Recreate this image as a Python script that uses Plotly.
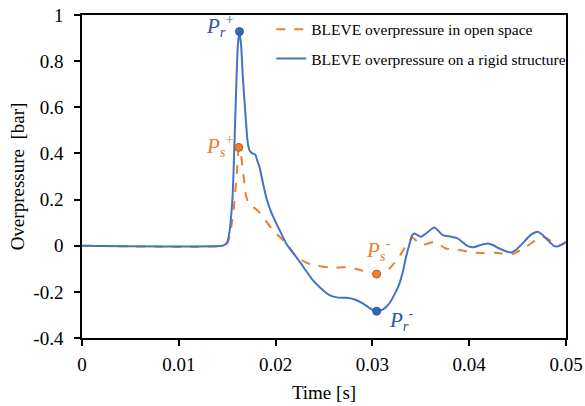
import plotly.graph_objects as go

# Time [s] and overpressure [bar]
t_open = [0, 0.0145, 0.0150, 0.0153, 0.0157, 0.0160, 0.0162, 0.0164, 0.01662, 0.01697, 0.0173,
          0.01765, 0.0182, 0.01868, 0.01971, 0.0211, 0.0221, 0.0230, 0.02384, 0.02556, 0.02729,
          0.0282, 0.029, 0.0297, 0.03044, 0.0311, 0.03175, 0.03279, 0.03364, 0.03416, 0.0346,
          0.03519, 0.0364, 0.0376, 0.03898, 0.0407, 0.04277, 0.04448, 0.04586, 0.04757, 0.04861,
          0.0495, 0.05]
p_open = [0, 0, 0.01, 0.05, 0.17, 0.32, 0.426, 0.40, 0.328, 0.212, 0.18,
          0.169, 0.15, 0.125, 0.068, 0.01, -0.045, -0.07, -0.084, -0.094, -0.094,
          -0.1, -0.109, -0.118, -0.123, -0.115, -0.1, -0.045, 0.01, 0.035, 0.02,
          0.003, 0.017, -0.012, -0.019, -0.031, -0.031, -0.036, -0.005, 0.039, 0.017,
          0.003, 0.015]

t_rigid = [0, 0.0145, 0.0148, 0.0150, 0.0152, 0.01555, 0.01586, 0.0161, 0.01627, 0.01645, 0.01662,
           0.0169, 0.01713, 0.01735, 0.0176, 0.0179, 0.0181, 0.01834, 0.0187, 0.01903, 0.0195,
           0.02006, 0.0205, 0.02109, 0.0225, 0.02384, 0.0247, 0.02556, 0.0265, 0.02729, 0.0281,
           0.029, 0.0297, 0.03044, 0.0311, 0.03175, 0.0323, 0.03279, 0.0331, 0.03348, 0.03382,
           0.0341, 0.03433, 0.0347, 0.03503, 0.0356, 0.0364, 0.03726, 0.03812, 0.0388, 0.03967,
           0.04035, 0.0411, 0.0419, 0.0425, 0.0431, 0.04431, 0.0449, 0.04551, 0.0463, 0.04706,
           0.0475, 0.04793, 0.04878, 0.0492, 0.04947, 0.05]
p_rigid = [0, 0, 0.005, 0.015, 0.05, 0.21, 0.59, 0.87, 0.928, 0.86, 0.73,
           0.56, 0.445, 0.41, 0.40, 0.395, 0.37, 0.34, 0.27, 0.21, 0.15,
           0.098, 0.06, 0.01, -0.07, -0.149, -0.185, -0.214, -0.225, -0.226, -0.232,
           -0.25, -0.27, -0.284, -0.276, -0.25, -0.21, -0.164, -0.12, -0.048, 0.005,
           0.045, 0.053, 0.045, 0.039, 0.055, 0.079, 0.046, 0.039, 0.032, 0.003,
           -0.007, 0.002, 0.01, 0.002, -0.012, -0.029, -0.015, 0.01, 0.045, 0.06,
           0.05, 0.032, -0.002, -0.002, 0.003, 0.017]

# Marked peaks
open_peaks_t = [0.0162, 0.03044]
open_peaks_p = [0.426, -0.123]
rigid_peaks_t = [0.01627, 0.03044]
rigid_peaks_p = [0.928, -0.284]

x_tickvals = [0, 0.01, 0.02, 0.03, 0.04, 0.05]
x_ticktext = ["0", "0.01", "0.02", "0.03", "0.04", "0.05"]
y_tickvals = [-0.4, -0.2, 0, 0.2, 0.4, 0.6, 0.8, 1]
y_ticktext = ["-0.4", "-0.2", "0", "0.2", "0.4", "0.6", "0.8", "1"]

ORANGE = "#ED7D31"
BLUE = "#4472C4"
DARKBLUE = "#2A5A9E"
FONT = "Liberation Serif"

fig = go.Figure()
fig.add_trace(go.Scatter(x=t_open, y=p_open, mode="lines", name="BLEVE overpressure in open space",
                         line=dict(color=ORANGE, width=2, dash="dash", shape="spline", smoothing=0.6),
                         legendgroup="a"))
fig.add_trace(go.Scatter(x=t_rigid, y=p_rigid, mode="lines", name="BLEVE overpressure on a rigid structure",
                         line=dict(color=BLUE, width=2, shape="spline", smoothing=0.6),
                         legendgroup="b"))
fig.add_trace(go.Scatter(x=open_peaks_t, y=open_peaks_p, mode="markers", showlegend=False,
                         marker=dict(color=ORANGE, size=8, line=dict(color="#C0601E", width=1))))
fig.add_trace(go.Scatter(x=rigid_peaks_t, y=rigid_peaks_p, mode="markers", showlegend=False,
                         marker=dict(color="#3366B8", size=8, line=dict(color="#2A5A9E", width=1))))

fig.add_annotation(x=rigid_peaks_t[0], y=rigid_peaks_p[0], text="<i>P</i><sub><i>r</i></sub><sup>+</sup>",
                   xanchor="right", yanchor="middle", xshift=-3, yshift=6,
                   font=dict(family=FONT, size=21, color=DARKBLUE), showarrow=False)
fig.add_annotation(x=open_peaks_t[0], y=open_peaks_p[0], text="<i>P</i><sub><i>s</i></sub><sup>+</sup>",
                   xanchor="right", yanchor="middle", xshift=-3, yshift=2,
                   font=dict(family=FONT, size=21, color=ORANGE), showarrow=False)
fig.add_annotation(x=open_peaks_t[1], y=open_peaks_p[1], text="<i>P</i><sub><i>s</i></sub><sup>-</sup>",
                   xanchor="center", yanchor="bottom", xshift=2, yshift=8,
                   font=dict(family=FONT, size=21, color=ORANGE), showarrow=False)
fig.add_annotation(x=rigid_peaks_t[1], y=rigid_peaks_p[1], text="<i>P</i><sub><i>r</i></sub><sup>-</sup>",
                   xanchor="left", yanchor="top", xshift=10, yshift=8,
                   font=dict(family=FONT, size=21, color=DARKBLUE), showarrow=False)

axis_common = dict(showline=True, linecolor="black", linewidth=1.5, mirror=True,
                   ticks="outside", ticklen=6, tickwidth=1.5, tickcolor="black",
                   showgrid=False, zeroline=False, automargin=False,
                   ticklabeloverflow="allow",
                   tickfont=dict(family=FONT, size=19, color="black"))

fig.update_xaxes(range=[0, 0.05], tickvals=x_tickvals, ticktext=x_ticktext, ticklabelstandoff=2,
                 title=dict(text="Time [s]", font=dict(family=FONT, size=19, color="black"), standoff=12),
                 **axis_common)
fig.update_yaxes(range=[-0.4, 1], tickvals=y_tickvals, ticktext=y_ticktext, ticklabelstandoff=7,
                 title=dict(text="Overpressure  [bar]", font=dict(family=FONT, size=19, color="black"), standoff=4),
                 **axis_common)

fig.update_layout(
    width=585, height=406,
    margin=dict(l=82, r=19, t=15, b=68),
    paper_bgcolor="white", plot_bgcolor="white",
    legend=dict(x=0.391, y=1.007, xanchor="left", yanchor="top",
                font=dict(family=FONT, size=15.5, color="black"),
                bgcolor="rgba(0,0,0,0)", tracegroupgap=6, traceorder="grouped"),
)

fig.write_html("out.html", config={"displayModeBar": False},
               post_script="document.body.style.margin='0px';")
